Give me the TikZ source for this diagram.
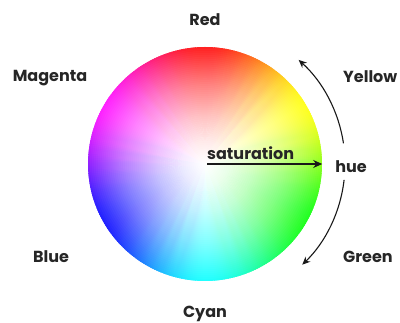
\documentclass[tikz,border=0pt]{standalone}
\usepackage{fontspec}
\setmainfont{Poppins}
\usetikzlibrary{arrows.meta}
\begin{document}
\begin{tikzpicture}[x=1pt,y=1pt,
  lbl/.style={font=\bfseries\fontsize{16}{18}\selectfont, text=black!85, inner sep=0pt},
  satarrow/.style={-{Stealth[length=9pt,width=8pt]}, line width=1.3pt, black!90},
  huearrow/.style={-{Stealth[length=8pt,width=7pt]}, line width=1.1pt, black!90}]
\useasboundingbox (0,0) rectangle (400,323);
\fill[white] (0,0) rectangle (400,323);
\coordinate (c) at (205,159);
\def\R{117}
% hue wedges (smoothed hue ramp)
\foreach \h in {0,...,359}{
  \pgfmathsetmacro\rr{min(1,max(0,abs(\h/60-3)-1))}
  \pgfmathsetmacro\gg{min(1,max(0,2-abs(\h/60-2)))}
  \pgfmathsetmacro\bb{min(1,max(0,2-abs(\h/60-4)))}
  \pgfmathsetmacro\rr{\rr*\rr*(3-2*\rr)}
  \pgfmathsetmacro\gg{\gg*\gg*(3-2*\gg)}
  \pgfmathsetmacro\bb{\bb*\bb*(3-2*\bb)}
  \definecolor{hc}{rgb}{\rr,\gg,\bb}
  \pgfmathsetmacro\a{90-\h}
  \fill[hc] (c) -- ++({\a+0.8}:\R) arc[start angle=\a+0.8, end angle=\a-0.8, radius=\R] -- cycle;
}
% saturation: white towards the centre (saturation = 0.88 (r/R)^1.6)
\foreach \k in {60,59,...,1}{
  \pgfmathsetmacro\op{\k==60 ? 1-0.88*((59.5/60)^1.6) : 1-(((\k-0.5)/(\k+0.5))^1.6)}
  \fill[white, fill opacity=\op] (c) circle ({\R*\k/60});
}
\node[circle, minimum size=234pt, inner sep=0pt] (wheel) at (c) {};
% labels
\node[lbl, anchor=base] (red) at (205,297) {Red};
\node[lbl, anchor=base] (magenta) at (50,241) {Magenta};
\node[lbl, anchor=base west] (yellow) at (343,240) {Yellow};
\node[lbl, anchor=base west] (green) at (343,60) {Green};
\node[lbl, anchor=base] (blue) at (51,60) {Blue};
\node[lbl, anchor=base] (cyan) at (205,5) {Cyan};
\node[lbl, anchor=base] (hue) at (351,150) {hue};
\node[lbl, anchor=base west] (sat) at (207,163) {saturation};
% saturation arrow
\draw[satarrow] ([xshift=2pt]c) -- (wheel.east);
% hue arcs
\draw[huearrow] ([shift={(8.5:140)}]c) arc[start angle=8.5, end angle=48, radius=140];
\draw[huearrow] ([shift={(-6.5:140)}]c) arc[start angle=-6.5, end angle=-46, radius=140];
\end{tikzpicture}
\end{document}
